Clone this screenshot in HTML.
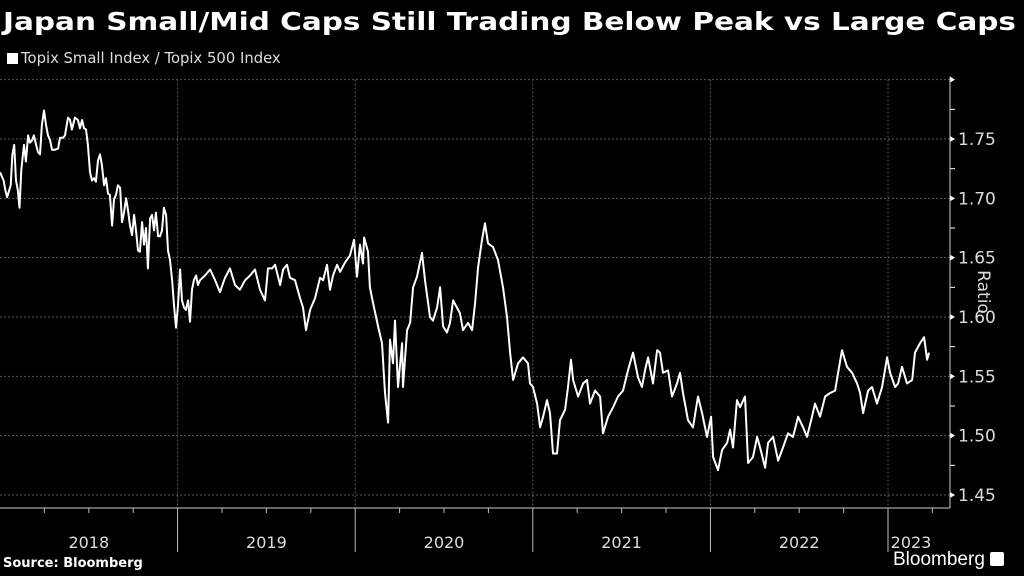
<!DOCTYPE html>
<html><head><meta charset="utf-8"><style>
html,body{margin:0;padding:0;background:#000;}
body{width:1024px;height:576px;overflow:hidden;position:relative;font-family:"DejaVu Sans","Liberation Sans",sans-serif;color:#fff;}
#legend{position:absolute;left:7px;top:50px;font-size:14.8px;color:#ddd;}
#legend span.sw{display:inline-block;width:11px;height:11px;background:#fff;margin-right:3px;vertical-align:-1px;}
#source{position:absolute;left:3px;top:556px;font-size:13px;font-weight:bold;}
#logo{position:absolute;left:893px;top:549px;font-size:19px;font-family:"Liberation Sans",sans-serif;}
svg{position:absolute;left:0;top:0;}
</style></head><body>
<div id="legend"><span class="sw"></span>Topix Small Index / Topix 500 Index</div>
<div id="source">Source: Bloomberg</div>
<div id="logo">Bloomberg <span style="display:inline-block;width:14px;height:14px;background:#fff;border-radius:2px;vertical-align:-1px"></span></div>
<svg id="chart" width="1024" height="576">
<text x="3" y="30" fill="#fff" font-size="25" font-weight="bold" font-family="DejaVu Sans, Liberation Sans, sans-serif" textLength="1013" lengthAdjust="spacingAndGlyphs">Japan Small/Mid Caps Still Trading Below Peak vs Large Caps</text>
</svg>
<script>
const yTicks=[1.45,1.50,1.55,1.60,1.65,1.70,1.75];
const yTickLabels=["1.45","1.50","1.55","1.60","1.65","1.70","1.75"];
const years=["2018","2019","2020","2021","2022","2023"];
const times=[0,.02,.03,.04,.06,.07,.08,.09,.10,.11,.12,.135,.146,.158,.169,.18,.191,.203,.214,.225,.236,.248,.259,.27,.282,.293,.31,.327,.338,.355,.366,.383,.394,.405,.422,.439,.45,.462,.473,.484,.495,.507,.518,.529,.54,.552,.563,
.574,.586,.597,.608,.619,.631,.642,.653,.664,.676,.687,.698,.710,.721,.732,.743,.755,.766,.777,.788,.800,.811,.822,.833,.845,.856,.867,.878,.890,.901,.912,.923,.935,.946,.957,.969,.980,.991,1.002,1.014,1.025,1.036,1.047,1.059,1.070,1.081,1.092,1.104,1.115,1.126,1.154,1.183,1.211,1.239,1.267,1.295,1.323,1.351,1.380,1.408,1.436,1.464,1.492,1.509,1.532,1.549,1.577,1.594,1.616,1.633,1.661,1.689,1.706,1.723,1.746,1.774,1.802,1.819,1.841,1.858,1.875,1.898,1.915,1.943,1.971,1.993,2.010,2.027,2.044,2.050,2.072,2.083,2.100,2.129,2.151,2.168,2.185,2.196,2.213,2.224,2.241,2.264,2.269,2.292,2.309,2.326,2.348,2.376,2.393,2.421,2.438,2.461,2.478,2.495,2.517,2.534,2.551,2.590,2.607,2.635,2.658,2.675,2.692,2.714,2.731,2.748,2.776,2.804,2.832,2.855,2.872,2.889,2.917,2.945,2.973,2.984,3.001,3.024,3.041,3.058,3.080,3.097,3.114,3.136,3.153,3.182,3.198,3.215,3.227,3.255,3.283,3.305,3.322,3.350,3.379,3.395,3.424,3.452,3.480,3.508,3.536,3.564,3.593,3.615,3.632,3.649,3.677,3.700,3.716,3.733,3.762,3.784,3.812,3.829,3.846,3.874,3.902,3.930,3.953,3.981,4.004,4.015,4.043,4.066,4.094,4.111,4.127,4.150,4.167,4.195,4.212,4.240,4.263,4.280,4.308,4.325,4.353,4.381,4.409,4.437,4.465,4.494,4.522,4.544,4.572,4.589,4.617,4.646,4.674,4.702,4.719,4.741,4.769,4.798,4.826,4.843,4.860,4.888,4.910,4.938,4.967,4.995,5.012,5.040,5.057,5.079,5.107,5.136,5.152,5.181,5.203,5.220,5.231];
const ratio=[1.722,1.715,1.707,1.701,1.711,1.737,1.745,1.715,1.707,1.692,1.724,1.745,1.731,1.753,1.747,1.749,1.753,1.745,1.739,1.737,1.762,1.774,1.762,1.753,1.749,1.741,1.741,1.742,1.751,1.751,1.753,1.768,1.766,1.758,1.768,1.766,1.759,1.766,1.759,1.758,1.745,1.722,1.715,1.717,1.714,1.732,1.737,
1.728,1.711,1.717,1.704,1.703,1.677,1.699,1.703,1.711,1.709,1.680,1.688,1.700,1.690,1.677,1.669,1.686,1.673,1.656,1.655,1.680,1.661,1.675,1.641,1.683,1.686,1.673,1.688,1.668,1.668,1.673,1.692,1.686,1.656,1.648,1.631,1.610,1.591,1.610,1.640,1.614,1.608,1.606,1.614,1.596,1.623,1.631,1.635,1.627,1.631,1.635,1.640,1.631,1.621,1.633,1.641,1.627,1.623,1.631,1.635,1.640,1.623,1.614,1.641,1.641,1.644,1.627,1.640,1.644,1.633,1.631,1.616,1.608,1.589,1.606,1.616,1.633,1.631,1.644,1.623,1.635,1.644,1.638,1.646,1.652,1.665,1.634,1.661,1.645,1.667,1.655,1.625,1.612,1.592,1.578,1.536,1.511,1.581,1.561,1.597,1.541,1.578,1.541,1.589,1.595,1.625,1.634,1.654,1.631,1.600,1.597,1.608,1.625,1.592,1.587,1.595,1.614,1.603,1.589,1.595,1.589,1.612,1.642,1.665,1.679,1.662,1.659,1.648,1.625,1.600,1.570,1.547,1.561,1.566,1.561,1.544,1.541,1.527,1.507,1.516,1.530,1.519,1.485,1.485,1.513,1.522,1.541,1.564,1.547,1.533,1.544,1.547,1.527,1.538,1.533,1.502,1.516,1.524,1.533,1.538,1.555,1.570,1.549,1.541,1.555,1.566,1.544,1.572,1.570,1.553,1.555,1.533,1.544,1.553,1.536,1.513,1.507,1.533,1.519,1.499,1.516,1.482,1.471,1.488,1.494,1.505,1.490,1.530,1.524,1.533,1.477,1.482,1.499,1.490,1.473,1.494,1.499,1.479,1.490,1.502,1.499,1.516,1.507,1.499,1.516,1.527,1.516,1.533,1.536,1.538,1.553,1.572,1.558,1.553,1.544,1.536,1.519,1.538,1.541,1.527,1.541,1.566,1.553,1.541,1.544,1.558,1.544,1.547,1.570,1.578,1.583,1.564,1.570];

const NS="http://www.w3.org/2000/svg";
const svg=document.getElementById('chart');
const X0=0,PXY=177.6,RIGHT=950,TOP=79.5,BOT=508;
const FONT='DejaVu Sans, Liberation Sans, sans-serif';
function xs(t){return X0+t*PXY;}
function ys(v){return 139+(1.75-v)*1186.7;}
function mk(tag,attrs){const e=document.createElementNS(NS,tag);for(const k in attrs)e.setAttribute(k,attrs[k]);svg.appendChild(e);return e;}
const gridVals=yTicks.concat([1.80]);
gridVals.forEach(v=>{
  const g=mk('line',{x1:0,x2:RIGHT,y1:ys(v),y2:ys(v),stroke:'#5a5a5a','stroke-dasharray':'2,2','stroke-width':1});
  
  
  const m=mk('path',{d:`M${RIGHT},${ys(v)-3} L${RIGHT+5},${ys(v)} L${RIGHT},${ys(v)+3}Z`,fill:'#fff'});
  
  
});
for(let i=0;i<yTicks.length;i++){
  const v=yTicks[i]+0.025;
  const t=mk('line',{x1:RIGHT,x2:RIGHT+5,y1:ys(v),y2:ys(v),stroke:'#fff','stroke-width':1});
  
  
}
yTicks.forEach((v,i)=>{
  const t=mk('text',{x:RIGHT+8,y:ys(v)+6,fill:'#ddd','font-size':17,'font-family':FONT});
  t.textContent=yTickLabels[i];
  
  
});
for(let i=1;i<years.length;i++){
  const x=xs(i);
  const g=mk('line',{x1:x,x2:x,y1:TOP,y2:BOT,stroke:'#5a5a5a','stroke-dasharray':'2,2'});
  
  
  const d=mk('line',{x1:x,x2:x,y1:BOT,y2:552,stroke:'#bbb'});
  
  
}
for(let q=1;q<22;q++){
  if(q%4===0)continue;
  const x=xs(q/4);
  if(x>RIGHT)continue;
  const t=mk('line',{x1:x,x2:x,y1:BOT,y2:BOT+5,stroke:'#bbb'});
  
  
}
const ax=mk('line',{x1:0,x2:RIGHT,y1:BOT,y2:BOT,stroke:'#ccc'});


const ay=mk('line',{x1:RIGHT,x2:RIGHT,y1:TOP-3,y2:BOT,stroke:'#ccc'});


years.forEach((yr,i)=>{
  let cx=i<5?xs(i+0.5):(xs(5)+RIGHT)/2-8;
  const t=mk('text',{x:cx,y:548,fill:'#ddd','font-size':16,'text-anchor':'middle','font-family':FONT});
  t.textContent=yr;
  
  
});
const rt=mk('text',{x:0,y:0,fill:'#ddd','font-size':17,'text-anchor':'middle','font-family':FONT,transform:'translate(978,292) rotate(90)'});
rt.textContent='Ratio';


let d='';
times.forEach((t,i)=>{d+=(i?'L':'M')+xs(t).toFixed(1)+','+ys(ratio[i]).toFixed(1);});
const ln=mk('path',{d:d,fill:'none',stroke:'#fff','stroke-width':2,'stroke-linejoin':'round'});


</script>
</body></html>
